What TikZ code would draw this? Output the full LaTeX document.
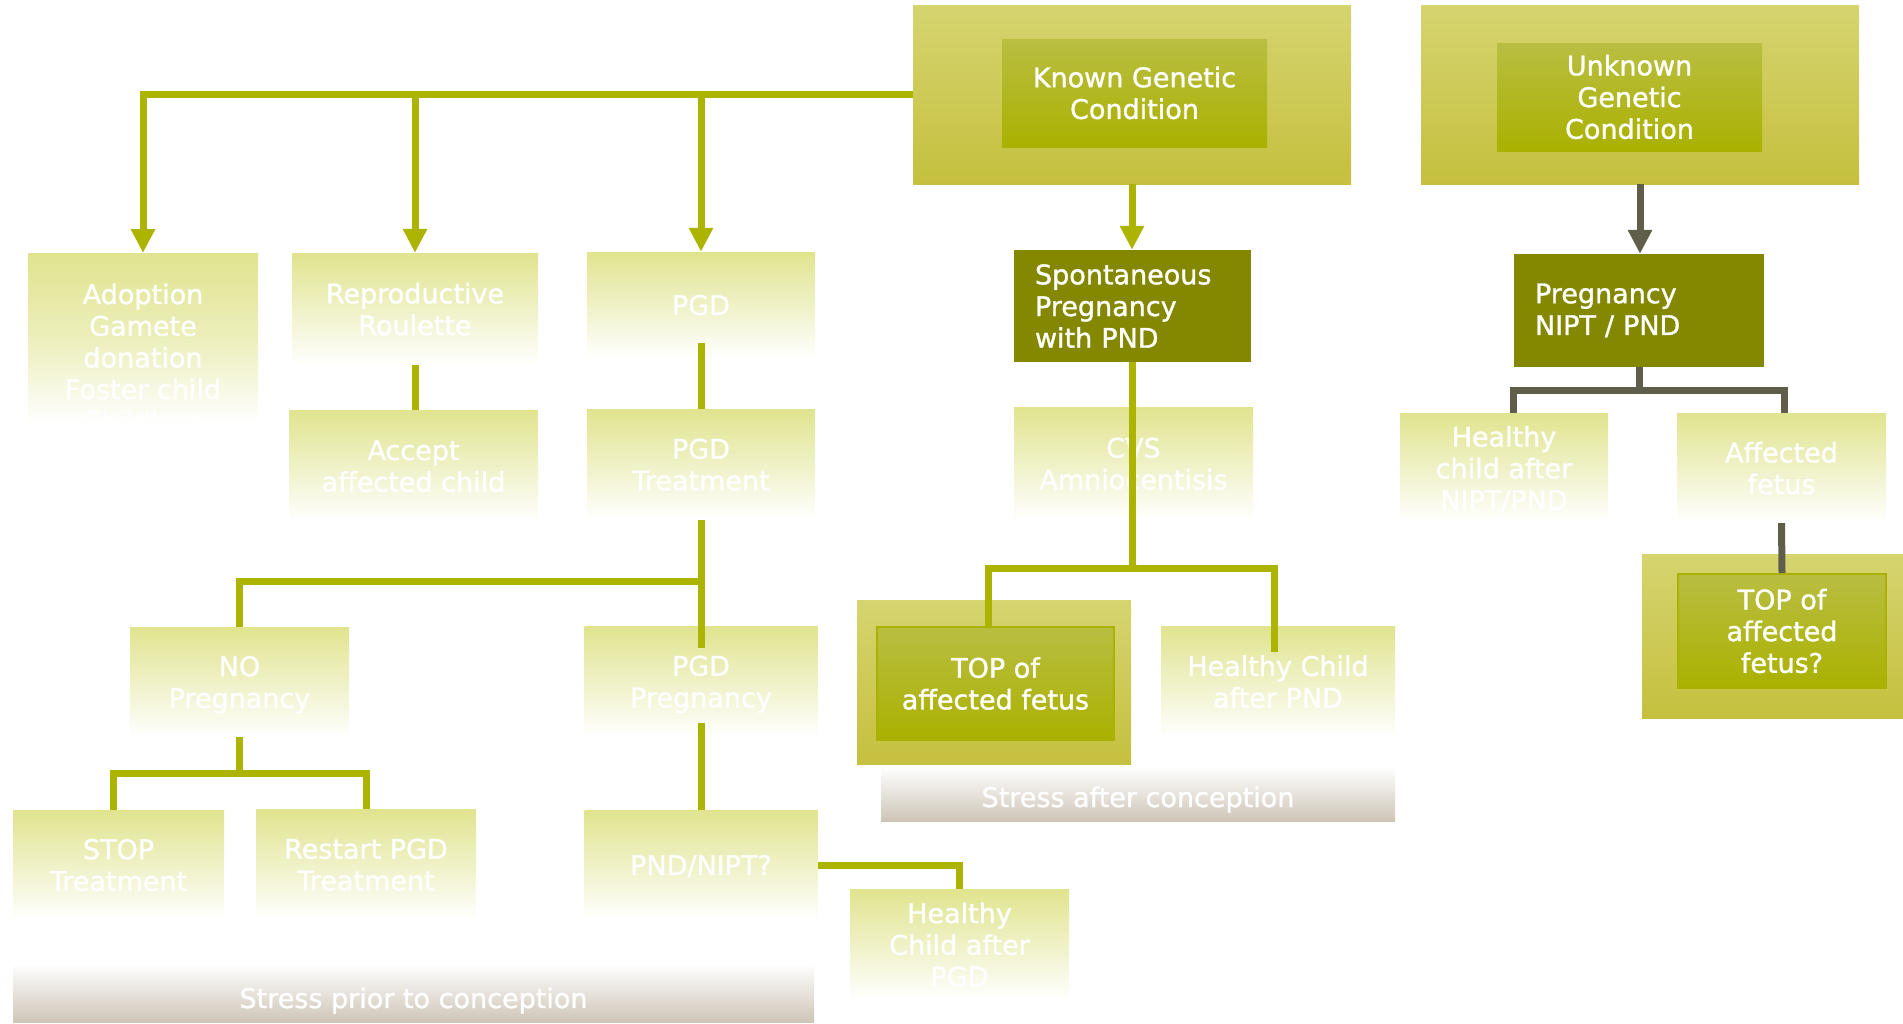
\documentclass[tikz,border=0pt]{standalone}
\usepackage{fontspec}
\setmainfont{DejaVu Sans}[FakeBold=1.2]
\usepackage{xcolor}
\usepackage{tikz}
\usetikzlibrary{arrows.meta}

\definecolor{boxlite}{RGB}{224,228,142}
\colorlet{boxfade}{boxlite!60!white}
\definecolor{olivedark}{RGB}{131,136,0}
\definecolor{outtop}{RGB}{214,212,112}
\definecolor{outmid}{RGB}{211,208,86}
\definecolor{outbot}{RGB}{197,192,62}
\definecolor{intop}{RGB}{185,190,66}
\definecolor{inmid}{RGB}{178,187,0}
\definecolor{inbot}{RGB}{170,177,0}
\definecolor{stressbot}{RGB}{206,197,183}
\definecolor{linkgreen}{RGB}{172,180,0}
\definecolor{linkgrey}{RGB}{94,94,74}
\newcommand{\nodefont}{\fontsize{27}{31.7}\selectfont}
% fade that stays white at the foot of the tall adoption box
\pgfdeclareverticalshading{adoptfade}{100bp}{color(0bp)=(white); color(34bp)=(white); color(54.6bp)=(boxfade); color(75bp)=(boxlite); color(100bp)=(boxlite)}

\begin{document}
\begin{tikzpicture}[x=1pt,y=-1pt,
    litebox/.style={top color=boxlite,middle color=boxfade,bottom color=white,text=white,font=\nodefont,align=center,inner sep=0pt,text depth=-6pt},
    darkbox/.style={fill=olivedark,text=white,font=\nodefont,align=left,inner ysep=0pt},
    outerbox/.style={top color=outtop,middle color=outmid,bottom color=outbot,inner sep=0pt},
    innerbox/.style={top color=intop,middle color=inmid,bottom color=inbot,text=white,font=\nodefont,align=center,inner sep=0pt},
    stressbox/.style={top color=white,bottom color=stressbot,text=white,font=\nodefont,inner sep=0pt,text depth=0pt},
    conn/.style={line width=7pt,draw=linkgreen},
    darkconn/.style={line width=7pt,draw=linkgrey},
    tip/.style={-{Triangle[width=23pt,length=24pt]}}]
    \useasboundingbox (0,0) rectangle (1903,1023);
    % top row
    \node[outerbox,minimum width=438,minimum height=179] (knownout) at (1132,94.5) {};
    \node[innerbox,minimum width=265,minimum height=108] (known) at (1134.5,93) {Known Genetic\\Condition};
    \node[outerbox,minimum width=438,minimum height=179] (unknownout) at (1640,94.5) {};
    \node[innerbox,minimum width=265,minimum height=108] (unknown) at (1629.5,97) {Unknown\\Genetic\\Condition};
    % options before conception
    \node[litebox,shading=adoptfade,text depth=0pt,minimum width=230,minimum height=208,anchor=north] (adopt) at (143,253) {Adoption\\Gamete\\donation\\Foster child\\Childless};
    \node[litebox,minimum width=246,minimum height=112] (roulette) at (415,309) {Reproductive\\Roulette};
    \node[litebox,minimum width=249,minimum height=112] (accept) at (413.5,466) {Accept\\affected child};
    \node[litebox,minimum width=228,minimum height=106] (pgd) at (701,305) {PGD};
    \node[litebox,minimum width=228,minimum height=111] (pgdtreat) at (701,464.5) {PGD\\Treatment};
    \node[litebox,minimum width=219,minimum height=110] (nopreg) at (239.5,682) {NO\\Pregnancy};
    \node[litebox,minimum width=233,minimum height=111] (pgdpreg) at (701,681.5) {PGD\\Pregnancy};
    \node[litebox,minimum width=211,minimum height=110] (stop) at (118.5,865) {STOP\\Treatment};
    \node[litebox,minimum width=220,minimum height=111] (restart) at (366,864.5) {Restart PGD\\Treatment};
    \node[litebox,minimum width=233,minimum height=110] (pndnipt) at (701,865) {PND/NIPT?};
    \node[litebox,minimum width=219,minimum height=111] (healthypgd) at (959.5,944.5) {Healthy\\Child after\\PGD};
    \node[stressbox,minimum width=801,minimum height=58,text height=30] (stressprior) at (413.5,993) {Stress prior to conception};
    % spontaneous pregnancy
    \node[darkbox,minimum height=112,text width=195,inner xsep=21] (spont) at (1132.5,306) {Spontaneous\\Pregnancy\\with PND};
    \node[litebox,minimum width=239,minimum height=113] (cvs) at (1133.5,463.5) {CVS\\Amniocentisis};
    \node[outerbox,minimum width=274,minimum height=164] (top1out) at (994,682) {};
    \node[innerbox,draw=inbot,line width=2pt,minimum width=237,minimum height=113] (top1) at (995.5,683.5) {TOP of\\affected fetus};
    \node[litebox,minimum width=234,minimum height=111] (healthypnd) at (1278,681.5) {Healthy Child\\after PND};
    \node[stressbox,minimum width=514,minimum height=54,text height=26] (stressafter) at (1138,794) {Stress after conception};
    % unknown condition
    \node[darkbox,minimum height=113,text width=208,inner xsep=21] (nipt) at (1639,310.5) {Pregnancy\\NIPT / PND};
    \node[litebox,minimum width=208,minimum height=110] (healthynipt) at (1504,468) {Healthy\\child after\\NIPT/PND};
    \node[litebox,minimum width=209,minimum height=110] (affected) at (1781.5,468) {Affected\\fetus};
    \node[outerbox,minimum width=261,minimum height=164] (top2out) at (1772.5,636) {};
    \node[innerbox,draw=inbot,line width=2pt,minimum width=208,minimum height=114] (top2) at (1782,631) {TOP of\\affected\\fetus?};
    % connectors
    \draw[conn,tip] (knownout.west) -| (adopt.north);
    \draw[conn,tip] (knownout.west) -| (roulette.north);
    \draw[conn,tip] (knownout.west) -| (pgd.north);
    \draw[conn,tip] (knownout.south) -- (knownout.south |- spont.north);
    \draw[darkconn,tip] (unknownout.south) -- (unknownout.south |- nipt.north);
    \draw[conn] (roulette.south) -- (roulette.south |- accept.north);
    \draw[conn] ([yshift=15pt]pgd.south) -- (pgdtreat.north);
    \coordinate (pgdfork) at (701,581);
    \draw[conn] (pgdtreat.south) -- ([yshift=-22pt]pgdpreg.north);
    \draw[conn] (nopreg.north) |- (pgdfork);
    \coordinate (nofork) at (239.5,773);
    \draw[conn] (nopreg.south) -- (nofork);
    \draw[conn] ([xshift=-5pt]stop.north) |- (nofork) -| (restart.north);
    \draw[conn] ([yshift=14pt]pgdpreg.south) -- (pndnipt.north);
    \draw[conn] (pndnipt.east) -| (healthypgd.north);
    \coordinate (spfork) at (1132.5,568);
    \draw[conn] (spont.south) -- (spfork);
    \draw[conn] ([xshift=-7pt]top1.north) |- (spfork) -| ([xshift=-4pt,yshift=-26pt]healthypnd.north);
    \coordinate (niptfork) at (1639,390);
    \draw[darkconn] (nipt.south) -- (niptfork);
    \draw[darkconn] ([xshift=9pt]healthynipt.north) |- (niptfork) -| ([xshift=2.5pt]affected.north);
    \draw[darkconn] (affected.south) -- (top2.north);
\end{tikzpicture}
\end{document}
